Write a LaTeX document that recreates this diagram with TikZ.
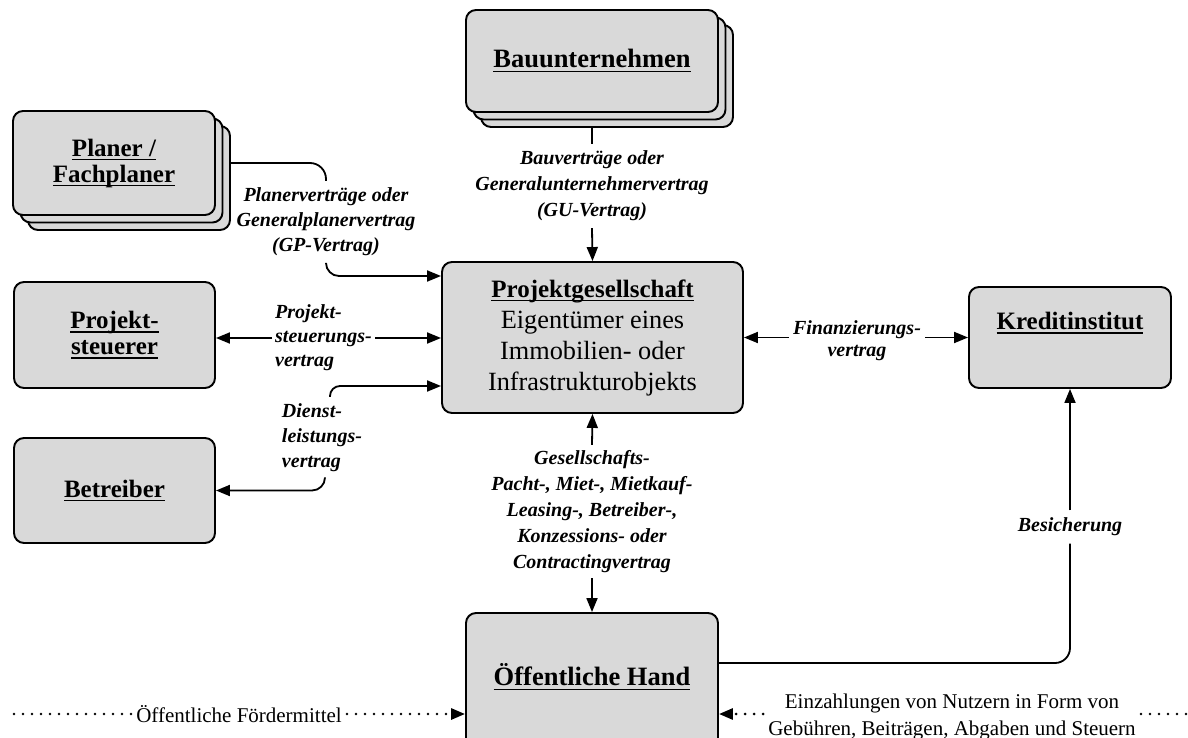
\documentclass[tikz,border=0pt]{standalone}
\usepackage{fontspec}
\setmainfont{Liberation Serif}
\usetikzlibrary{arrows.meta}
\definecolor{boxfill}{RGB}{217,217,217}
% underline with a fixed depth, crossing descenders
\newcommand\uln[1]{\leavevmode\setbox0\hbox{#1}\rlap{\rule[-0.17em]{\wd0}{0.065em}}\box0}
\tikzset{
  box/.style={draw, line width=1.9pt, fill=boxfill, rounded corners=10pt, inner sep=0pt, align=center},
  title/.style={font=\fontsize{25}{26}\selectfont\bfseries},
  bigtitle/.style={font=\fontsize{26.5}{31}\selectfont\bfseries},
  lbl/.style={inner sep=0pt, align=center, font=\fontsize{20}{26}\selectfont\bfseries\itshape},
  plain/.style={line width=1.8pt},
  conn/.style={line width=1.8pt, -{Triangle[length=14pt,width=11pt]}},
  dotline/.style={line width=2.8pt, line cap=round, dash pattern=on 0pt off 9pt},
  dotarrow/.style={dotline, -{Triangle[length=14pt,width=11pt]}},
  note/.style={inner sep=5pt, align=center, font=\fontsize{21}{27}\selectfont},
}
\begin{document}
\begin{tikzpicture}[x=1pt,y=-1pt]
\useasboundingbox (0,0) rectangle (1188,738);
\fill[white] (0,0) rectangle (1188,738);
\clip (0,0) rectangle (1188,738);

% stacked boxes: construction firms
\node[box, minimum width=252pt, minimum height=102pt] (bau3) at (607,76) {};
\node[box, minimum width=252pt, minimum height=102pt] (bau2) at (599.5,68.5) {};
\node[box, minimum width=252pt, minimum height=102pt, bigtitle] (bau) at (592,61) {\uln{Bauunternehmen}};

% stacked boxes: planners
\node[box, minimum width=202pt, minimum height=104pt] (planer3) at (129,178) {};
\node[box, minimum width=202pt, minimum height=104pt] (planer2) at (121.5,170.5) {};
\node[box, minimum width=202pt, minimum height=104pt, title] (planer) at (114,163) {\uln{Planer /}\\\uln{Fachplaner}};

% single boxes
\node[box, minimum width=201pt, minimum height=106pt, title] (st) at (114.5,335) {\uln{Projekt-}\\\uln{steuerer}};
\node[box, minimum width=201pt, minimum height=105pt, title] (bet) at (114.5,490.5) {\uln{Betreiber}};
\node[box, minimum width=301pt, minimum height=151pt, font=\fontsize{26.3}{31}\selectfont] (pg) at (592.5,337.5)
  {{\fontsize{25}{31}\selectfont\bfseries\uln{Projektgesellschaft}}\\Eigentümer eines\\Immobilien- oder\\Infrastrukturobjekts};
\node[box, minimum width=202pt, minimum height=101pt] (kr) at (1070,337.5) {};
\node[title] (krt) at (1070,323) {\uln{Kreditinstitut}};
\node[box, minimum width=252pt, minimum height=137pt] (oh) at (592,681.5) {};
\node[bigtitle] (oht) at (592,677) {\uln{Öffentliche Hand}};

% contract labels
\node[lbl, minimum height=84pt] (gu) at (592,186) {Bauverträge oder\\Generalunternehmervertrag\\(GU-Vertrag)};
\node[lbl, minimum height=82pt, font=\fontsize{20}{25}\selectfont\bfseries\itshape] (gp) at (326,222) {Planerverträge oder\\Generalplanervertrag\\(GP-Vertrag)};
\node[lbl, align=left, anchor=west, inner xsep=3pt, font=\fontsize{20}{24}\selectfont\bfseries\itshape] (ps) at (272,338) {Projekt-\\steuerungs-\\vertrag};
\node[lbl, align=left, minimum height=81pt, font=\fontsize{20}{25}\selectfont\bfseries\itshape] (dl) at (322,437.5) {Dienst-\\leistungs-\\vertrag};
\node[lbl, inner xsep=4pt, font=\fontsize{20}{22}\selectfont\bfseries\itshape] (fin) at (857,341) {Finanzierungs-\\vertrag};
\node[lbl, minimum height=133pt] (gs) at (592,511.5) {Gesellschafts-\\Pacht-, Miet-, Mietkauf-\\Leasing-, Betreiber-,\\Konzessions- oder\\Contractingvertrag};
\node[lbl, minimum height=33pt] (bes) at (1070,527) {Besicherung};

% connectors
\draw[plain] (bau3.south -| bau.south) -- (gu.north);
\draw[conn] (gu.south) -- (pg.north);

\draw[plain, rounded corners=16pt] (planer.east -| planer3.east) -| (gp.north);
\draw[conn, rounded corners=13pt] (gp.south) |- ([yshift=61.5pt]pg.west);

\draw[conn] (ps.west) -- (ps.west -| st.east);
\draw[conn] (ps.east) -- (ps.east -| pg.west);

\draw[conn, rounded corners=10pt] ([xshift=8pt]dl.north) |- ([yshift=-48.5pt]pg.west);
\draw[conn, rounded corners=13pt] ([xshift=3pt]dl.south) |- (bet.east);

\draw[conn] (fin.west |- pg.east) -- (pg.east);
\draw[conn] (fin.east |- kr.west) -- (kr.west);

\draw[conn] (gs.north) -- (pg.south);
\draw[conn] (gs.south) -- (oh.north);

\draw[plain, rounded corners=15pt] ([yshift=18.5pt]oh.east) -| (bes.south);
\draw[conn] (bes.north) -- (kr.south);

% flows of money (dotted)
\coordinate (lft) at (13,714);
\coordinate (rgt) at (1192,714);
\node[note] (fm) at (239,714) {Öffentliche Fördermittel};
\node[note] (ez) at (952,717) {Einzahlungen von Nutzern in Form von\\Gebühren, Beiträgen, Abgaben und Steuern};
\draw[dotline] (fm.west) -- (lft);
\draw[dotarrow] (fm.east) -- (fm.east -| oh.west);
\draw[dotarrow] (ez.west |- rgt) -- (oh.east |- rgt);
\draw[dotline] (ez.east |- rgt) -- (rgt);
\end{tikzpicture}
\end{document}
